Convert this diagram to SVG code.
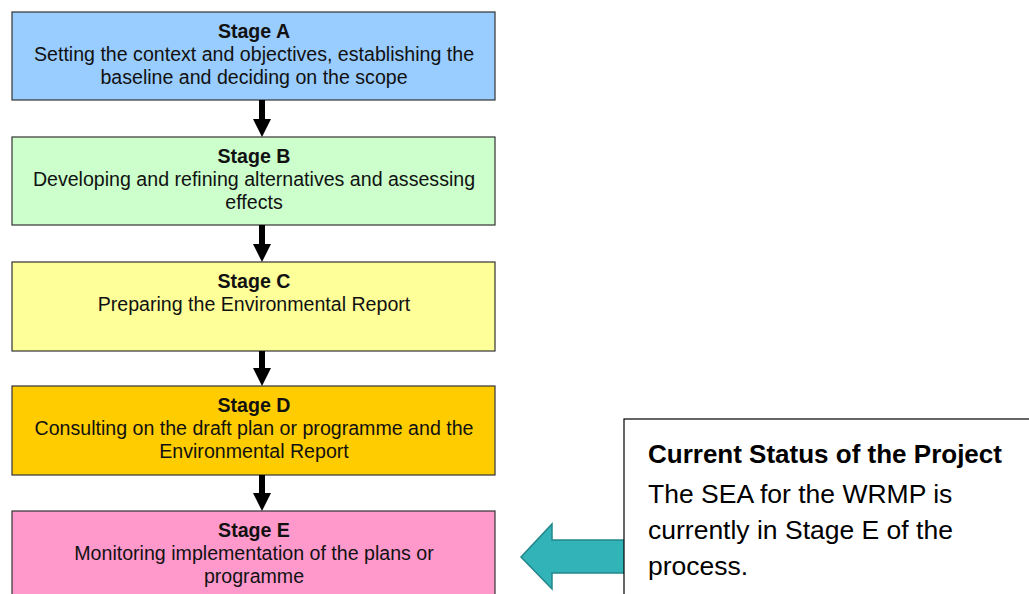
<svg xmlns="http://www.w3.org/2000/svg" width="1029" height="594" viewBox="0 0 1029 594">
<defs>
<style>
.box{stroke:#333;stroke-width:1.2}
.t{font-family:"Liberation Sans",Arial,sans-serif;font-size:19.6px;fill:#111;text-anchor:middle}
.b{font-weight:bold}
.s{font-family:"Liberation Sans",Arial,sans-serif;font-size:26.5px;fill:#000}
.st{font-size:26px}
</style>
<marker id="ah" markerWidth="18" markerHeight="18" refX="0" refY="9" orient="auto" markerUnits="userSpaceOnUse" viewBox="0 0 18 18">
<path d="M0,0 L18,9 L0,18 Z" fill="#000"/>
</marker>
</defs>
<rect width="1029" height="594" fill="#fff"/>
<g id="stageA">
<rect class="box" x="12" y="12" width="483" height="88" fill="#99CCFF"/>
<text class="t b" x="254" y="38">Stage A</text>
<text class="t" x="254" y="61">Setting the context and objectives, establishing the</text>
<text class="t" x="254" y="84">baseline and deciding on the scope</text>
</g>
<g id="stageB">
<rect class="box" x="12" y="137" width="483" height="88" fill="#CCFFCC"/>
<text class="t b" x="254" y="163">Stage B</text>
<text class="t" x="254" y="186">Developing and refining alternatives and assessing</text>
<text class="t" x="254" y="209">effects</text>
</g>
<g id="stageC">
<rect class="box" x="12" y="262" width="483" height="89" fill="#FFFF99"/>
<text class="t b" x="254" y="288">Stage C</text>
<text class="t" x="254" y="311">Preparing the Environmental Report</text>
</g>
<g id="stageD">
<rect class="box" x="12" y="386" width="483" height="89" fill="#FFCC00"/>
<text class="t b" x="254" y="412">Stage D</text>
<text class="t" x="254" y="435">Consulting on the draft plan or programme and the</text>
<text class="t" x="254" y="458">Environmental Report</text>
</g>
<g id="stageE">
<rect class="box" x="12" y="511" width="483" height="100" fill="#FF99CC"/>
<text class="t b" x="254" y="537">Stage E</text>
<text class="t" x="254" y="560">Monitoring implementation of the plans or</text>
<text class="t" x="254" y="583">programme</text>
</g>
<g id="connectors" stroke="#000" stroke-width="6" fill="none">
<line x1="262" y1="100" x2="262" y2="119" marker-end="url(#ah)"/>
<line x1="262" y1="225" x2="262" y2="244" marker-end="url(#ah)"/>
<line x1="262" y1="351" x2="262" y2="368" marker-end="url(#ah)"/>
<line x1="262" y1="475" x2="262" y2="493" marker-end="url(#ah)"/>
</g>
<g id="pointer">
<path d="M628,540 L552,540 L552,524 L521,557 L552,589 L552,573 L628,573 Z" fill="#31B3B8" stroke="#23868A" stroke-width="1.5"/>
</g>
<g id="status">
<rect x="624" y="419" width="420" height="200" fill="#fff" stroke="#000" stroke-width="1.2"/>
<text class="s st b" x="648" y="463">Current Status of the Project</text>
<text class="s" x="648" y="503">The SEA for the WRMP is</text>
<text class="s" x="648" y="539">currently in Stage E of the</text>
<text class="s" x="648" y="575">process.</text>
</g>
</svg>
